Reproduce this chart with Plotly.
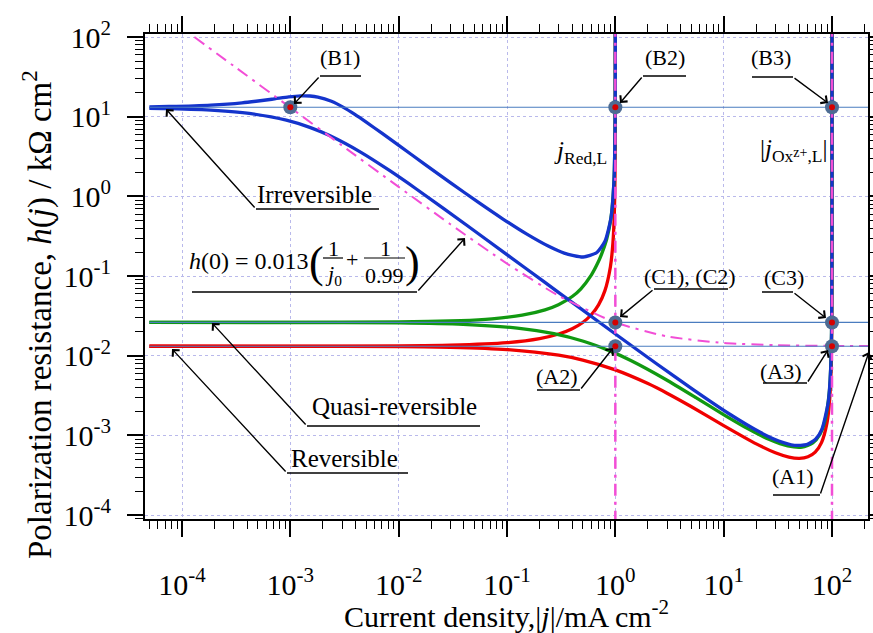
import plotly.graph_objects as go

# ---------------- data ----------------
# Reversible (red)
rev_an_j = [5e-5, 1e-3, 1e-2, 0.03, 0.1, 0.2, 0.3, 0.4, 0.5, 0.6, 0.7, 0.8, 0.9, 0.95, 0.98, 0.99, 0.995, 0.998, 0.999, 0.9995, 0.9999]
rev_an_h = [0.013131, 0.013143, 0.013261, 0.013532, 0.014574, 0.016380, 0.018701, 0.021796, 0.026129, 0.032629, 0.043462, 0.065129, 0.130129, 0.26013, 0.65013, 1.30013, 2.60013, 6.5, 13.0, 26.0, 130.0]
rev_ca_j = [5e-5, 1e-3, 1e-2, 0.03, 0.1, 0.3, 0.5, 1, 2, 3, 5, 10, 20, 30, 40, 50, 60, 70, 80, 90, 95, 98, 99, 99.5, 99.8, 99.9, 99.95, 99.98, 99.99, 99.995, 99.999, 99.9999]
rev_ca_h = [0.013130, 0.013117, 0.013001, 0.012751, 0.011948, 0.010130, 0.008797, 0.006631, 0.004466, 0.003384, 0.002304, 0.001326, 0.000782, 0.000605, 0.000534, 0.000515, 0.000538, 0.000616, 0.000810, 0.001443, 0.002735, 0.006631, 0.013131, 0.026131, 0.06513, 0.13013, 0.26, 0.65, 1.3, 2.6, 13.0, 130.0]

# Quasi-reversible (green)
qr_an_j = [5e-5, 1e-3, 1e-2, 0.037278, 0.072628, 0.13802, 0.22426, 0.29837, 0.40023, 0.48108, 0.59980, 0.68248, 0.74388, 0.83034, 0.90912, 0.969579, 0.990205, 0.99689, 0.999017, 0.99969]
qr_an_h = [0.026131, 0.02617, 0.02651, 0.027551, 0.029042, 0.032236, 0.037582, 0.043633, 0.055367, 0.069193, 0.10266, 0.14223, 0.18608, 0.28785, 0.51806, 1.4678, 4.467, 13.97, 44.1, 139.8]
qr_ca_j = [5e-5, 1e-3, 1e-2, 0.039316, 0.124555, 0.27102, 0.5077, 0.88769, 1.38923, 2.92157, 5.54219, 9.87895, 16.6645, 26.447, 39.0034, 53.0277, 66.4563, 77.5777, 85.7555, 94.7566, 98.1763, 99.3767, 99.788, 99.9, 99.99, 99.999, 99.9999]
qr_ca_h = [0.026129, 0.026097, 0.02579, 0.02477, 0.022244, 0.018896, 0.015165, 0.011492, 0.0087048, 0.0050301, 0.0029765, 0.0018382, 0.0012148, 0.00088537, 0.00073501, 0.00071035, 0.00080117, 0.0010345, 0.0014822, 0.003677, 0.010264, 0.02978, 0.08747, 0.186, 1.86, 18.6, 186.0]

# Irreversible (blue)
irr_an_j = [5e-5, 7.563e-5, 1.85162e-4, 3.5799e-4, 6.7509e-4, 9.6644e-4, 1.24403e-3, 1.5177e-3, 1.79609e-3, 2.39521e-3, 3.09328e-3, 3.93865e-3, 4.98294e-3, 7.05084e-3, 9.9494e-3, 0.0175872, 0.0308967, 0.05372, 0.091809, 0.15255, 0.24271, 0.33718, 0.50402, 0.67013, 0.80237, 0.91091, 0.970075, 0.99, 0.997, 0.999, 0.9997]
irr_an_h = [13.28, 13.423, 13.998, 14.935, 16.555, 17.691, 18.239, 18.199, 17.657, 15.614, 13.096, 10.687, 8.6062, 6.1588, 4.3918, 2.5071, 1.44699, 0.85233, 0.51964, 0.33515, 0.23573, 0.19387, 0.17332, 0.19600, 0.27323, 0.5339, 1.4926, 4.376, 14.49, 43.37, 144.5]
irr_ca_j = [5e-5, 7.807e-5, 1.99989e-4, 4.176e-4, 9.187e-4, 1.5344e-3, 2.3041e-3, 4.52796e-3, 8.2176e-3, 0.0144468, 0.0431477, 0.0969964, 0.217524, 0.4867, 1.08519, 2.40158, 5.22961, 11.0152, 21.7298, 32.237, 44.909, 58.2747, 70.527, 80.393, 92.33, 97.248, 99.045, 99.9, 99.99, 99.999, 99.9999]
irr_ca_h = [12.75, 12.6094, 12.0018, 10.9915, 9.0487, 7.2977, 5.7951, 3.5418, 2.11371, 1.24657, 0.42772, 0.19123, 0.085497, 0.038332, 0.017299, 0.0079224, 0.0037469, 0.0018945, 0.0010918, 0.00085009, 0.00075058, 0.00076372, 0.00089339, 0.0011781, 0.0026223, 0.0069397, 0.019642, 0.186, 1.86, 18.6, 186.0]

# h(0) as a function of j0 (pink dash-dot)
h0_x = [1.3e-4, 3e-4, 1e-3, 3e-3, 1e-2, 3e-2, 0.1, 0.3, 1, 3, 10, 30, 100, 215]
h0_h = [100.01, 43.35, 13.013, 4.3465, 1.3131, 0.44647, 0.14313, 0.056465, 0.026131, 0.017465, 0.014431, 0.013565, 0.013261, 0.013192]

# limiting current densities and h(0) levels
limit_j = [1.0, 100.0]
level_h = [13.13, 0.02613, 0.01313]
level_x = [5e-5, 215]

# marked points (B1,B2,B3,C1/C2,C3,A2,A3)
pt_j = [1e-3, 1, 100, 1, 100, 1, 100]
pt_h = [13.13, 13.13, 13.13, 0.02613, 0.02613, 0.01313, 0.01313]

xtick_vals = [1e-4, 1e-3, 1e-2, 1e-1, 1, 10, 100]
xtick_text = ["10<sup>-4</sup>", "10<sup>-3</sup>", "10<sup>-2</sup>", "10<sup>-1</sup>", "10<sup>0</sup>", "10<sup>1</sup>", "10<sup>2</sup>"]
ytick_vals = [1e-4, 1e-3, 1e-2, 1e-1, 1, 10, 100]
ytick_text = ["10<sup>-4</sup>", "10<sup>-3</sup>", "10<sup>-2</sup>", "10<sup>-1</sup>", "10<sup>0</sup>", "10<sup>1</sup>", "10<sup>2</sup>"]

# ---------------- styles ----------------
RED = "#f00000"
GREEN = "#119911"
BLUE = "#1434cc"
PINK = "#f24ed6"
THIN = "#4a7cbf"
FONT = "Liberation Serif"

W, H = 873, 633
L, R, T, B = 145, 868, 34, 519


def P(px):
    return (px - L) / (R - L)


def Q(py):
    return (B - py) / (B - T)


fig = go.Figure()

for xs, ys, col in [(rev_an_j, rev_an_h, RED), (rev_ca_j, rev_ca_h, RED),
                    (qr_an_j, qr_an_h, GREEN), (qr_ca_j, qr_ca_h, GREEN),
                    (irr_an_j, irr_an_h, BLUE), (irr_ca_j, irr_ca_h, BLUE)]:
    fig.add_trace(go.Scatter(x=xs, y=ys, mode="lines", line=dict(color=col, width=3.3, shape="spline", smoothing=0.6),
                             hoverinfo="skip", showlegend=False))

fig.add_trace(go.Scatter(x=h0_x, y=h0_h, mode="lines", line=dict(color=PINK, width=2, dash="12px,6px,3px,6px", shape="spline", smoothing=0.6),
                         hoverinfo="skip", showlegend=False))

for jl in limit_j:
    fig.add_trace(go.Scatter(x=[jl, jl], y=[8e-5, 130], mode="lines", line=dict(color=PINK, width=2.5, dash="12px,6px,3px,6px"),
                             hoverinfo="skip", showlegend=False))

for lv in level_h:
    fig.add_trace(go.Scatter(x=level_x, y=[lv, lv], mode="lines", line=dict(color=THIN, width=1.2),
                             hoverinfo="skip", showlegend=False))

fig.add_trace(go.Scatter(x=pt_j, y=pt_h, mode="markers", marker=dict(size=14, color="#4d6c93", line=dict(width=0)),
                         hoverinfo="skip", showlegend=False))
fig.add_trace(go.Scatter(x=pt_j, y=pt_h, mode="markers", marker=dict(size=6, color="#d40000", line=dict(width=0)),
                         hoverinfo="skip", showlegend=False))

minor_vals = [m * 10.0 ** e for e in range(-5, 3) for m in range(2, 10)]

axis_common = dict(type="log", showline=True, linecolor="black", linewidth=1.8, mirror="ticks",
                   ticks="outside", ticklen=16, tickwidth=1.5, tickcolor="black", automargin=False,
                   showgrid=True, gridcolor="rgb(185,185,235)", griddash="dot", gridwidth=1,
                   zeroline=False, tickmode="array",
                   tickfont=dict(family=FONT, size=30, color="black"),
                   minor=dict(tickmode="array", tickvals=minor_vals, ticks="outside", ticklen=8,
                              tickwidth=1.2, tickcolor="black", showgrid=False))

fig.update_xaxes(range=[-4.3415, 2.3323], tickvals=xtick_vals, ticktext=xtick_text, ticklabelstandoff=22, **axis_common)
fig.update_yaxes(range=[-4.05, 2.038], tickvals=ytick_vals, ticktext=ytick_text, ticklabelstandoff=10, **axis_common)

ann = []
shp = []


def label(cx, cy, text, size):
    ann.append(dict(x=P(cx), y=Q(cy), xref="paper", yref="paper", text=text, showarrow=False,
                    xanchor="center", yanchor="middle", font=dict(family=FONT, size=size, color="black")))


def uline(x0, x1, y):
    shp.append(dict(type="line", xref="paper", yref="paper", x0=P(x0), x1=P(x1), y0=Q(y), y1=Q(y),
                    line=dict(color="black", width=1.5)))


def arrow(tx, ty, hx, hy):
    ann.append(dict(x=P(hx), y=Q(hy), xref="paper", yref="paper", ax=tx - hx, ay=ty - hy, text="",
                    showarrow=True, arrowhead=4, arrowsize=1.3, arrowwidth=1.4, arrowcolor="black", standoff=0))


# point labels
label(340, 57, "(B1)", 22); uline(320, 361, 76); arrow(320, 76, 294, 104)
label(665, 57, "(B2)", 22); uline(643, 686, 76); arrow(643, 76, 620, 103)
label(771, 57, "(B3)", 22); uline(752, 793, 77); arrow(793, 77, 828, 103)
label(690, 276, "(C1), (C2)", 22); uline(654, 728, 289); arrow(654, 289, 620, 317)
label(784, 277, "(C3)", 22); uline(762, 793, 292); arrow(793, 292, 826, 318)
label(557, 377, "(A2)", 22); uline(537, 580, 390); arrow(580, 390, 613, 348)
label(781, 371, "(A3)", 22); uline(763, 807, 383); arrow(807, 383, 828, 350)
label(793, 476, "(A1)", 22); uline(773, 820, 495); arrow(820, 495, 869, 352)

# curve family labels
label(314, 194, "Irreversible", 25); uline(256, 379, 209); arrow(256, 209, 166, 109)
label(394, 407, "Quasi-reversible", 25); uline(307, 480, 426); arrow(307, 426, 212, 323)
label(344, 458, "Reversible", 25); uline(287, 408, 473); arrow(287, 473, 172, 349)

# formula h(0) = 0.013 (1/j0 + 1/0.99)
label(249, 261, "<i>h</i>(0) = 0.013", 24)
label(316, 262, "(", 44)
label(333, 248, "1", 22)
shp.append(dict(type="line", xref="paper", yref="paper", x0=P(323), x1=P(343), y0=Q(258), y1=Q(258), line=dict(color="black", width=1.2)))
label(333, 275, "<i>j</i><sub>0</sub>", 22)
label(352, 259, "+", 22)
label(385, 248, "1", 22)
shp.append(dict(type="line", xref="paper", yref="paper", x0=P(364), x1=P(405), y0=Q(258), y1=Q(258), line=dict(color="black", width=1.2)))
label(384, 275, "0.99", 22)
label(412, 262, ")", 44)
uline(192, 417, 292); arrow(417, 292, 465, 238)

# limiting-current labels
label(580, 152, "<i>j</i><sub>Red,L</sub>", 25)
label(794, 150, "|<i>j</i><sub>Ox</sub><span style='font-size:14px'>z+</span><sub>,L</sub>|", 25)

# axis titles
label(506, 614, "Current density,|<i>j</i>|/mA cm<sup>-2</sup>", 30)
ann.append(dict(x=P(38), y=Q(315), xref="paper", yref="paper", textangle=-90, showarrow=False,
                text="Polarization resistance, <i>h</i>(<i>j</i>) / kΩ cm<sup>2</sup>",
                xanchor="center", yanchor="middle", font=dict(family=FONT, size=33, color="black")))

fig.update_layout(width=W, height=H, margin=dict(l=L, r=W - R, t=T, b=H - B, pad=0, autoexpand=False),
                  plot_bgcolor="white", paper_bgcolor="white", showlegend=False,
                  font=dict(family=FONT, color="black"), annotations=ann, shapes=shp)

fig.write_html("out.html")
